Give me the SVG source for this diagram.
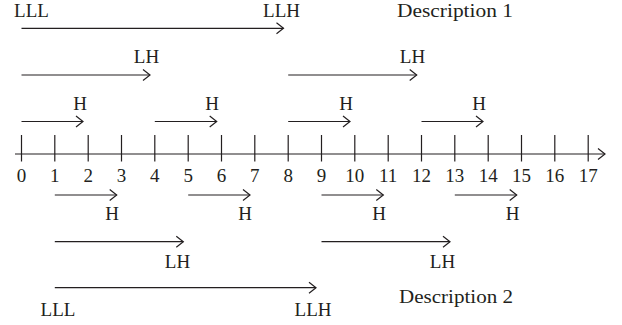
<svg xmlns="http://www.w3.org/2000/svg" width="622" height="325" viewBox="0 0 622 325">
<style>
text{font-family:"Liberation Serif","Times New Roman",serif;font-size:19px;fill:#231f20}
.m{text-anchor:middle}
.ln{stroke:#231f20;stroke-width:1.2;fill:none}
.ar{marker-end:url(#ah)}
</style>
<defs>
<marker id="ah" markerUnits="userSpaceOnUse" markerWidth="12" markerHeight="14" refX="7.5" refY="6" orient="auto" overflow="visible">
<path d="M0.5,0.5 L7.5,6 L0.5,11.5" fill="none" stroke="#231f20" stroke-width="1.2"/>
</marker>
</defs>
<rect width="622" height="325" fill="#fff"/>
<g id="connectors">
<line class="ln ar" x1="21.5" y1="28.3" x2="283.5" y2="28.3"/>
<line class="ln ar" x1="21.5" y1="75" x2="150" y2="75"/>
<line class="ln ar" x1="288.2" y1="75" x2="416.7" y2="75"/>
<line class="ln ar" x1="21.5" y1="121.5" x2="83" y2="121.5"/>
<line class="ln ar" x1="154.8" y1="121.5" x2="216.7" y2="121.5"/>
<line class="ln ar" x1="288.2" y1="121.5" x2="350" y2="121.5"/>
<line class="ln ar" x1="421.5" y1="121.5" x2="483" y2="121.5"/>
<line class="ln ar" x1="54.8" y1="195" x2="116.7" y2="195"/>
<line class="ln ar" x1="188.2" y1="195" x2="250" y2="195"/>
<line class="ln ar" x1="321.5" y1="195" x2="383.3" y2="195"/>
<line class="ln ar" x1="454.8" y1="195" x2="516.7" y2="195"/>
<line class="ln ar" x1="54.8" y1="241.7" x2="183.3" y2="241.7"/>
<line class="ln ar" x1="321.5" y1="241.7" x2="450" y2="241.7"/>
<line class="ln ar" x1="54.8" y1="287.7" x2="316" y2="287.7"/>
</g>
<g id="axis">
<line class="ln ar" x1="15" y1="154" x2="605" y2="154"/>
<path class="ln" d="M21.5,135V161.5M54.8,135V161.5M88.2,135V161.5M121.5,135V161.5M154.8,135V161.5M188.2,135V161.5M221.5,135V161.5M254.8,135V161.5M288.2,135V161.5M321.5,135V161.5M354.8,135V161.5M388.2,135V161.5M421.5,135V161.5M454.8,135V161.5M488.2,135V161.5M521.5,135V161.5M554.8,135V161.5M588.2,135V161.5"/>
<g class="m">
<text x="21.5" y="182">0</text><text x="54.8" y="182">1</text><text x="88.2" y="182">2</text><text x="121.5" y="182">3</text><text x="154.8" y="182">4</text><text x="188.2" y="182">5</text><text x="221.5" y="182">6</text><text x="254.8" y="182">7</text><text x="288.2" y="182">8</text><text x="321.5" y="182">9</text><text x="354.8" y="182">10</text><text x="388.2" y="182">11</text><text x="421.5" y="182">12</text><text x="454.8" y="182">13</text><text x="488.2" y="182">14</text><text x="521.5" y="182">15</text><text x="554.8" y="182">16</text><text x="588.2" y="182">17</text>
</g>
</g>
<g id="desc1-labels" class="m">
<text x="31.5" y="16.7">LLL</text>
<text x="281.5" y="16.7">LLH</text>
<text x="146.5" y="63.3">LH</text>
<text x="412.5" y="63.3">LH</text>
<text x="80" y="110">H</text>
<text x="212" y="110">H</text>
<text x="346" y="110">H</text>
<text x="479" y="110">H</text>
</g>
<g id="desc2-labels" class="m">
<text x="112" y="219.5">H</text>
<text x="245" y="219.5">H</text>
<text x="379" y="219.5">H</text>
<text x="512.5" y="219.5">H</text>
<text x="177.5" y="268.3">LH</text>
<text x="442.5" y="268.3">LH</text>
<text x="58" y="315.5">LLL</text>
<text x="313" y="315.5">LLH</text>
</g>
<g id="description-1"><text x="397" y="16.7" textLength="116" lengthAdjust="spacingAndGlyphs">Description 1</text></g>
<g id="description-2"><text x="399" y="303" textLength="114" lengthAdjust="spacingAndGlyphs">Description 2</text></g>
</svg>
